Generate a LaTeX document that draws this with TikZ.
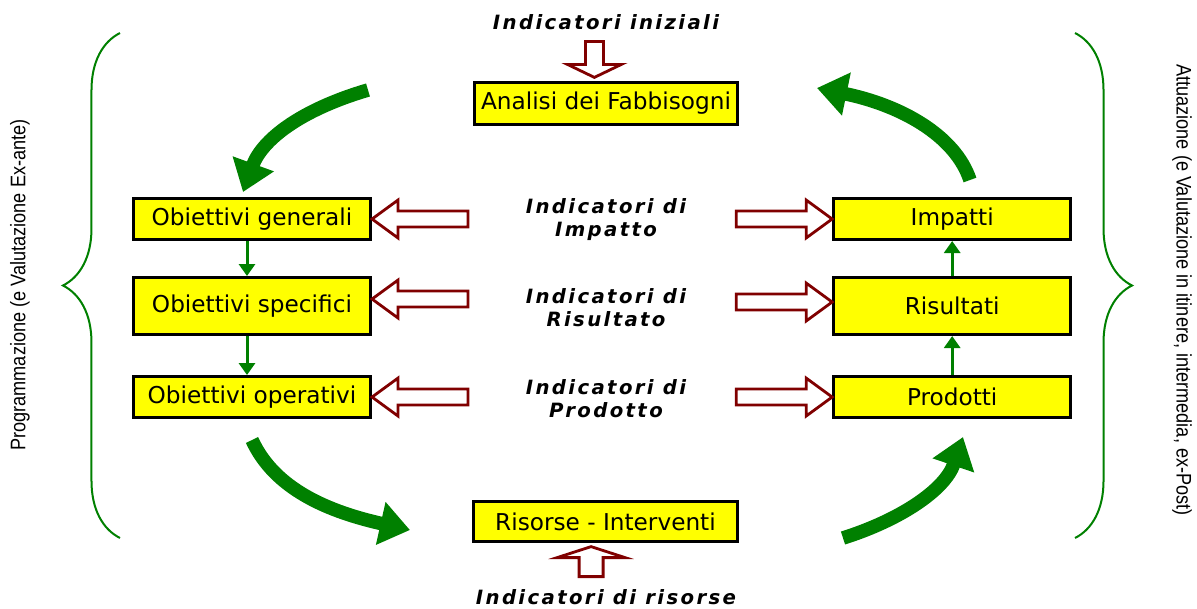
\documentclass[tikz,border=0pt]{standalone}
\usepackage{fontspec}
\setmainfont{DejaVu Sans}
\newfontfamily\indfont[LetterSpace=12,BoldItalicFont={DejaVu Sans Bold Oblique}]{DejaVu Sans}
\newfontfamily\sidefont[FakeStretch=0.86]{Liberation Sans}
\usepackage{tikz}
\usetikzlibrary{positioning,arrows.meta,decorations.pathreplacing}
\definecolor{boxyellow}{RGB}{255,255,0}
\definecolor{darkred}{RGB}{128,0,0}
\definecolor{arrowgreen}{RGB}{0,128,0}
\tikzset{
	box/.style={draw=black,fill=boxyellow,line width=0.075cm,minimum width=5.925cm,minimum height=1.025cm,inner sep=0pt,font=\fontsize{16.5}{19}\selectfont},
	ind/.style={align=center,font=\indfont\bfseries\itshape\fontsize{14}{16.5}\selectfont},
	side/.style={font=\sidefont\fontsize{15}{18}\selectfont},
	hollowline/.style={draw=darkred,fill=white,line width=0.07cm},
	bigarrow/.style={draw=arrowgreen,line width=0.34cm,-{Triangle[length=0.75cm,width=1.05cm]}},
	smallarrow/.style={draw=arrowgreen,line width=0.075cm,-{Triangle[length=0.3cm,width=0.4cm]}},
	bracket/.style={draw=arrowgreen,line width=0.05cm,decorate,decoration={brace,amplitude=1.425cm}},
	pics/hollow/.style n args={4}{code={
		\draw[hollowline] (0,0) -- (-#4,-#3/2) -- (-#4,-#2/2) -- (-#1,-#2/2)
			-- (-#1,#2/2) -- (-#4,#2/2) -- (-#4,#3/2) -- cycle;}}
}
\begin{document}
\begin{tikzpicture}[x=0.025cm,y=-0.025cm]
		\useasboundingbox (0,0) rectangle (1197,608);
		\begin{scope}
			\node[box] (gen) at (252,219) {Obiettivi generali};
			\node[box,minimum height=1.425cm,below=0.875cm of gen] (spec) {Obiettivi specifici};
			\node[box,below=0.975cm of spec] (oper) {Obiettivi operativi};
			\node[box,right=11.5cm of gen] (imp) {Impatti};
			\node[box,minimum height=1.425cm,right=11.5cm of spec] (ris) {Risultati};
			\node[box,right=11.5cm of oper] (prod) {Prodotti};
			\node[box,minimum width=6.575cm,minimum height=1.05cm] (ana) at (606,103.5) {Analisi dei Fabbisogni};
			\node[box,minimum width=6.6cm,minimum height=1cm] (risorse) at (605.5,521.5) {Risorse - Interventi};
		\end{scope}
		\begin{scope}
			\node[ind] (indini) at (606,22) {Indicatori iniziali};
			\node[ind] (indimp) at (606,219.5) {Indicatori di\\Impatto};
			\node[ind] (indris) at (606,308) {Indicatori di\\Risultato};
			\node[ind] (indprod) at (606,399) {Indicatori di\\Prodotto};
			\node[ind] (indres) at (606,597) {Indicatori di risorse};
			\pic[rotate=-90] at ([xshift=-0.29cm,yshift=0.09cm]ana.north) {hollow={36}{18}{54}{13}};
			\pic[rotate=90] at ([xshift=-0.36cm,yshift=-0.09cm]risorse.south) {hollow={30}{24}{68}{11}};
			\pic[rotate=180] at (gen.east) {hollow={96}{16}{38}{26}};
			\pic[rotate=180] at ([yshift=0.175cm]spec.east) {hollow={96}{16}{38}{26}};
			\pic[rotate=180] at (oper.east) {hollow={96}{16}{38}{26}};
			\pic at (imp.west) {hollow={96}{16}{38}{26}};
			\pic at ([yshift=0.1cm]ris.west) {hollow={96}{16}{38}{26}};
			\pic at (prod.west) {hollow={96}{16}{38}{26}};
		\end{scope}
		\path[every edge/.style={smallarrow}]
			([xshift=-0.125cm]gen.south) edge ([xshift=-0.125cm]spec.north)
			([xshift=-0.125cm]spec.south) edge ([xshift=-0.125cm]oper.north)
			(prod.north) edge (ris.south)
			(ris.north) edge (imp.south);
		% big cycle
		\coordinate (c1) at (368,90);
		\coordinate (c2) at (243,192);
		\coordinate (c3) at (252,440);
		\coordinate (c4) at (410,530);
		\coordinate (c5) at (843,538);
		\coordinate (c6) at (963,437);
		\coordinate (c7) at (970,180);
		\coordinate (c8) at (817,88);
		\draw[bigarrow] (c1) .. controls (300,110) and (262,140) .. (c2);
		\draw[bigarrow] (c3) .. controls (275,490) and (330,512) .. (c4);
		\draw[bigarrow] (c5) .. controls (900,520) and (945,490) .. (c6);
		\draw[bigarrow] (c7) .. controls (955,135) and (900,105) .. (c8);
		% braces
		\coordinate (bl1) at (120,538);
		\coordinate (bl2) at (120,33);
		\coordinate (br1) at (1075,33);
		\coordinate (br2) at (1075,538);
		\draw[bracket] (bl1) -- (bl2);
		\draw[bracket] (br1) -- (br2);
		\node[side,rotate=90] (prog) at (20,285) {Programmazione (e Valutazione Ex-ante)};
		\node[side,rotate=-90] (attu) at (1182,290) {Attuazione (e Valutazione in itinere, intermedia, ex-Post)};
	\end{tikzpicture}
\end{document}
